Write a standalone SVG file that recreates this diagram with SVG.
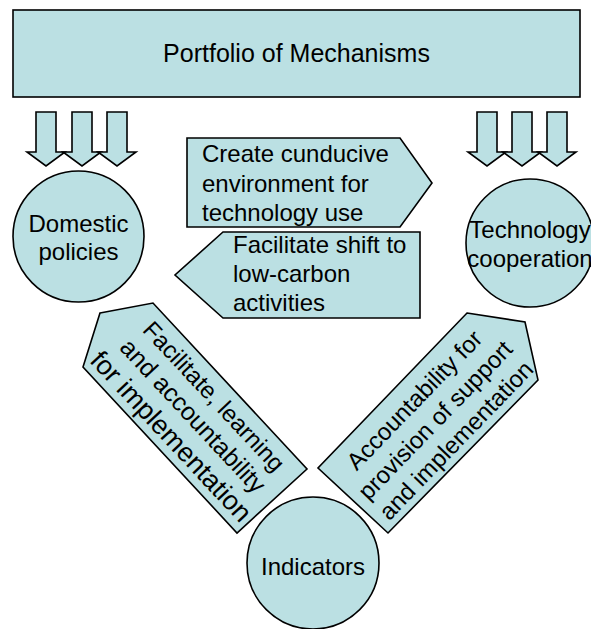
<svg xmlns="http://www.w3.org/2000/svg" width="591" height="629" viewBox="0 0 591 629">
  <defs>
    <style>
      .shape { fill: #BBE0E3; stroke: #000; stroke-width: 1.6; stroke-linejoin: miter; }
      .lbl { font-family: "Liberation Sans", Arial, sans-serif; font-size: 24px; fill: #000; }
      .mid { text-anchor: middle; }
    </style>
    <!-- block arrow pointing down, centred on x=0 -->
    <polygon id="downArrow" class="shape" points="-10,112 10,112 10,152 19,152 0,166 -19,152 -10,152"/>
  </defs>
  <rect width="591" height="629" fill="#fff"/>

  <g id="portfolio">
    <rect class="shape" x="13" y="10" width="567" height="87"/>
    <text class="lbl mid" x="296.5" y="62" style="font-size:25px">Portfolio of Mechanisms</text>
  </g>

  <g id="connectors">
    <use href="#downArrow" x="46"/>
    <use href="#downArrow" x="82"/>
    <use href="#downArrow" x="117"/>
    <use href="#downArrow" x="487"/>
    <use href="#downArrow" x="522"/>
    <use href="#downArrow" x="557"/>
  </g>

  <g id="domestic">
    <circle class="shape" cx="78.5" cy="236.5" r="65.5"/>
    <text class="lbl mid" x="78.5" y="232">Domestic</text>
    <text class="lbl mid" x="78.5" y="260">policies</text>
  </g>

  <g id="technology">
    <circle class="shape" cx="530" cy="243" r="64"/>
    <text class="lbl mid" x="530" y="238">Technology</text>
    <text class="lbl mid" x="530" y="267">cooperation</text>
  </g>

  <g id="create">
    <polygon class="shape" points="187,138 400,138 432,183 400,227 187,227"/>
    <text class="lbl" x="202" y="162">Create cunducive</text>
    <text class="lbl" x="202" y="191.5">environment for</text>
    <text class="lbl" x="202" y="221">technology use</text>
  </g>

  <g id="shift">
    <polygon class="shape" points="223,232 420,232 420,318 223,318 175,275"/>
    <text class="lbl" x="233" y="253">Facilitate shift to</text>
    <text class="lbl" x="233" y="282">low-carbon</text>
    <text class="lbl" x="233" y="311">activities</text>
  </g>

  <g id="learning">
    <polygon class="shape" points="100,313 153,303 307,469 237,533 83,367"/>
    <g transform="translate(193,416) rotate(47)">
      <text class="lbl mid" x="0" y="-20.5">Facilitate, learning</text>
      <text class="lbl mid" x="0" y="8.5" style="font-size:25px">and accountability</text>
      <text class="lbl mid" x="0" y="39" style="font-size:27px">for implementation</text>
    </g>
  </g>

  <g id="accountability">
    <polygon class="shape" points="467,313 525,322 538,380 388,533 318,468"/>
    <g transform="translate(435,420) rotate(-46)">
      <text class="lbl mid" x="0" y="-20.5">Accountability for</text>
      <text class="lbl mid" x="0" y="8.5">provision of support</text>
      <text class="lbl mid" x="0" y="37.5">and implementation</text>
    </g>
  </g>

  <g id="indicators">
    <circle class="shape" cx="313" cy="563" r="66"/>
    <text class="lbl mid" x="313" y="575">Indicators</text>
  </g>
</svg>
